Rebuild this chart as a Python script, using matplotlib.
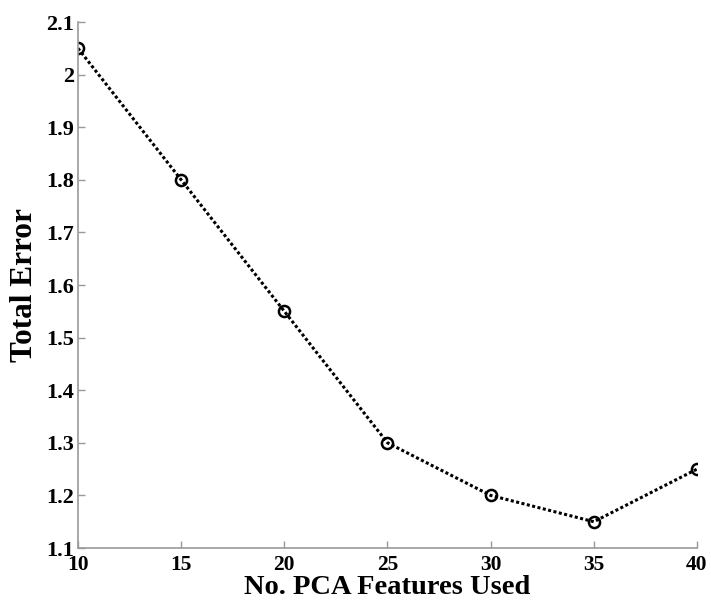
import matplotlib
matplotlib.use('Agg')
import matplotlib.pyplot as plt

# data
features = [10, 15, 20, 25, 30, 35, 40]
total_error = [2.05, 1.80, 1.55, 1.30, 1.20, 1.15, 1.25]
x_ticks = [10, 15, 20, 25, 30, 35, 40]
y_ticks = [1.1, 1.2, 1.3, 1.4, 1.5, 1.6, 1.7, 1.8, 1.9, 2.0, 2.1]
y_tick_labels = ['1.1', '1.2', '1.3', '1.4', '1.5', '1.6', '1.7', '1.8', '1.9', '2', '2.1']

plt.rcParams['font.family'] = ['Liberation Serif', 'DejaVu Serif']
plt.rcParams['font.weight'] = 'bold'

fig = plt.figure(figsize=(7.11, 6.05), dpi=100)
ax = fig.add_axes([0.1097, 0.0942, 0.8706, 0.8694])

ax.plot(features, total_error, linestyle=(0, (1, 0.8)), color='black', linewidth=2.2,
        marker='o', markersize=8, markerfacecolor='none', markeredgecolor='black',
        markeredgewidth=1.8)

ax.set_xlim(10, 40)
ax.set_ylim(1.1, 2.1)
ax.set_xticks(x_ticks)
ax.set_yticks(y_ticks)
ax.set_yticklabels(y_tick_labels)

for side in ['top', 'right']:
    ax.spines[side].set_visible(False)
for side in ['left', 'bottom']:
    ax.spines[side].set_color('#999999')
    ax.spines[side].set_linewidth(1.2)

ax.tick_params(direction='in', length=5, width=1, color='#999999', labelsize=16)
ax.tick_params(axis='x', pad=5, labelsize=15.5)
ax.tick_params(axis='y', pad=3)
for lbl in ax.get_xticklabels() + ax.get_yticklabels():
    lbl.set_fontweight('bold')

ax.set_xlabel('No. PCA Features Used', fontsize=20.5, fontweight='bold', labelpad=0)
ax.set_ylabel('Total Error', fontsize=22.5, fontweight='bold', labelpad=5)

fig.savefig('out.png', dpi=100)
